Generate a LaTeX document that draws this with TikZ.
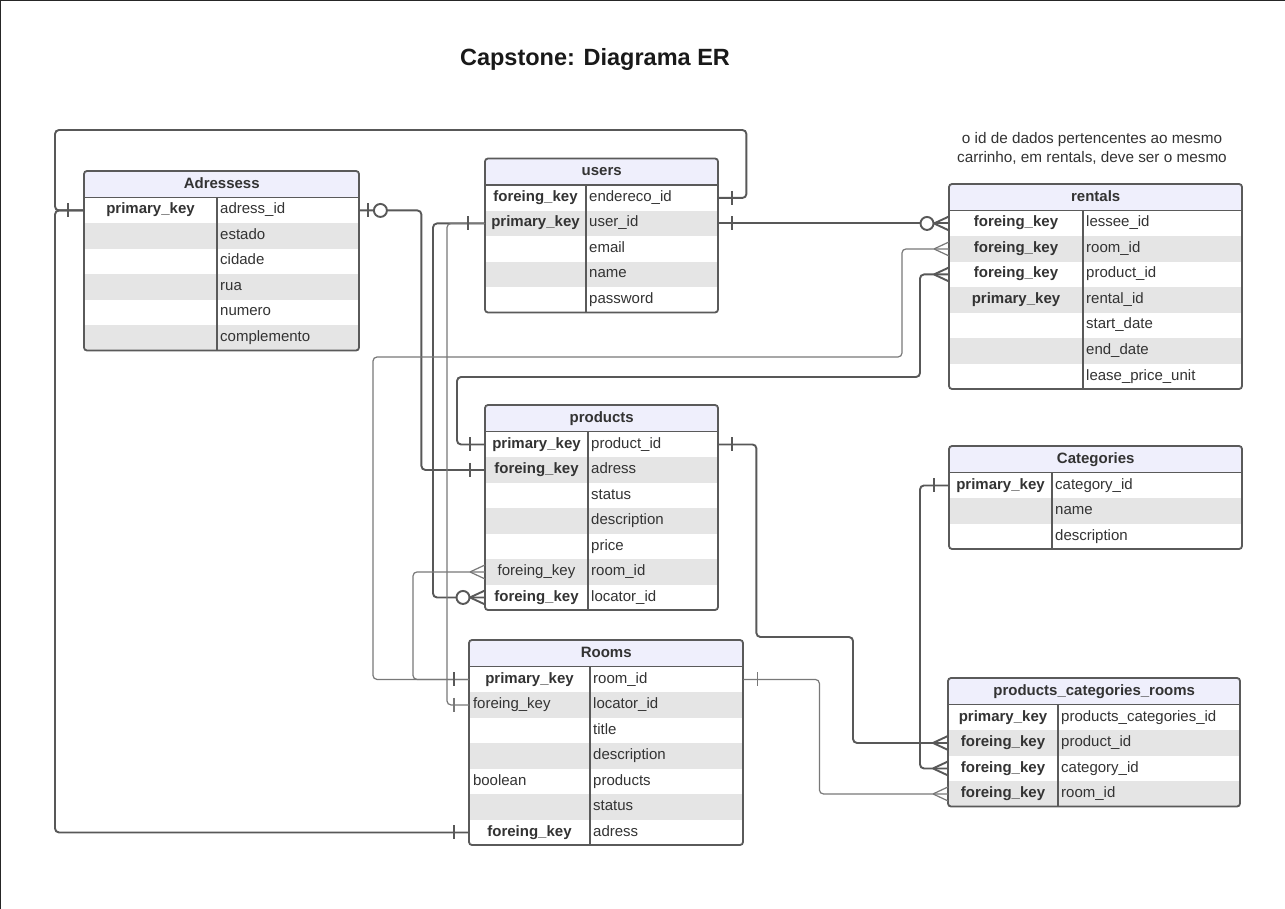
\documentclass[tikz,border=0pt]{standalone}
\usepackage{fontspec}
\setmainfont{Liberation Sans}
\definecolor{hdrfill}{RGB}{239,239,252}
\definecolor{rowgray}{RGB}{229,229,229}
\definecolor{bordc}{RGB}{90,90,90}
\definecolor{txtc}{RGB}{51,51,51}
\definecolor{linec}{RGB}{88,88,88}
\definecolor{thinlc}{RGB}{120,120,120}
\tikzset{
  hdr/.style={rectangle, fill=hdrfill, minimum height=26.5pt, inner sep=0pt, text=txtc, text height=11pt, text depth=3.5pt, font=\bfseries\fontsize{15}{18}\selectfont},
  rowbox/.style={rectangle, draw=none, minimum height=25.5pt, inner sep=0pt},
  keytxt/.style={inner sep=0pt, align=center, text=txtc, text height=11pt, text depth=3.5pt, font=\fontsize{15}{18}\selectfont},
  fieldtxt/.style={inner sep=0pt, anchor=west, text=txtc, text height=11pt, text depth=3.5pt, font=\fontsize{15}{18}\selectfont},
  tblline/.style={draw=bordc, line width=1.8pt},
  thickc/.style={draw=linec, line width=1.9pt, rounded corners=4pt},
  thinc/.style={draw=thinlc, line width=1.2pt, rounded corners=4pt},
}
\newcommand\lk[1]{\makebox[\hsize][l]{#1}}
\newcommand\ertable[8]{%
  \node[hdr, minimum width=#4pt, anchor=north west] (#1-h) at (#2,#3) {#6};
  \pgfmathsetmacro\kwid{#5-8}%
  \foreach \keyv/\fieldv [count=\i] in {#8} {
    \ifodd\i\relax\def\rf{white}\else\def\rf{rowgray}\fi
    \node[rowbox, fill=\rf, minimum width=#4pt, anchor=north west] (#1-\i) at (#2, #3+26.5+25.5*\i-25.5) {};
    \node[keytxt, text width=\kwid pt] (#1-k\i) at (#2+#5/2, #3+26.5+25.5*\i-12.75) {\keyv};
    \node[fieldtxt] (#1-f\i) at (#2+#5+3, #3+26.5+25.5*\i-12.75) {\fieldv};
  }
  \draw[tblline] (#2,#3+26.5) -- ++(#4,0);
  \draw[tblline] (#2+#5,#3+26.5) -- (#2+#5,#3+26.5+25.5*#7);
  \draw[tblline, rounded corners=3pt] (#2,#3) rectangle (#2+#4, #3+26.5+25.5*#7);
}
\newcommand\tickL[2][thickc]{\draw[#1] ([xshift=-15pt]#2) ++(0,-7) -- ++(0,14);}
\newcommand\tickR[2][thickc]{\draw[#1] ([xshift=14pt]#2) ++(0,-7) -- ++(0,14);}
\newcommand\crowL[2][thickc]{\draw[#1] ([xshift=-15pt]#2) -- ([yshift=7pt]#2) ([xshift=-15pt]#2) -- ([yshift=-7pt]#2);}
\newcommand\circL[2][thickc]{\draw[#1, fill=white] ([xshift=-22pt]#2) circle[radius=6.5pt];}
\begin{document}
\begin{tikzpicture}[x=1pt, y=-1pt]
\useasboundingbox (0,0) rectangle (1285,909);
\fill[white] (0,0) rectangle (1285,909);
\draw[line width=2.5pt, black!85] (0,909) -- (0,0) -- (1285,0);

\node[font=\bfseries\fontsize{23.5}{28}\selectfont, text=black!90] (title) at (595,59) {Capstone: Diagrama ER};
\node[align=center, text=txtc, font=\fontsize{15.3}{19}\selectfont] (note) at (1092,148.5) {o id de dados pertencentes ao mesmo\\carrinho, em rentals, deve ser o mesmo};

\ertable{adr}{84}{171}{275}{133}{Adressess}{6}{%
  {\textbf{primary\_key}}/adress\_id, {}/estado, {}/cidade, {}/rua, {}/numero, {}/complemento}
\ertable{users}{485}{158.5}{233}{101}{users}{5}{%
  {\textbf{foreing\_key}}/endereco\_id, {\textbf{primary\_key}}/user\_id, {}/email, {}/name, {}/password}
\ertable{rentals}{949}{184}{293}{134}{rentals}{7}{%
  {\textbf{foreing\_key}}/lessee\_id, {\textbf{foreing\_key}}/room\_id, {\textbf{foreing\_key}}/product\_id, {\textbf{primary\_key}}/rental\_id, {}/start\_date, {}/end\_date, {}/lease\_price\_unit}
\ertable{cat}{949}{446}{293}{103}{Categories}{3}{%
  {\textbf{primary\_key}}/category\_id, {}/name, {}/description}
\ertable{prod}{485}{405}{233}{103}{products}{7}{%
  {\textbf{primary\_key}}/product\_id, {\textbf{foreing\_key}}/adress, {}/status, {}/description, {}/price, {foreing\_key}/room\_id, {\textbf{foreing\_key}}/locator\_id}
\ertable{rooms}{469}{640}{274}{121}{Rooms}{7}{%
  {\textbf{primary\_key}}/room\_id, {\lk{foreing\_key}}/locator\_id, {}/title, {}/description, {\lk{boolean}}/products, {}/status, {\textbf{foreing\_key}}/adress}
\ertable{pcr}{948}{678}{292}{110}{products\_categories\_rooms}{4}{%
  {\textbf{primary\_key}}/products\_categories\_id, {\textbf{foreing\_key}}/product\_id, {\textbf{foreing\_key}}/category\_id, {\textbf{foreing\_key}}/room\_id}

% connectors
\draw[thickc] (users-1.east) -- ++(28,0) |- (55,130) |- (adr-1.west);
\draw[thickc] (adr-1.west) -- ++(-29,0) |- (rooms-7.west);
\draw[thickc] (adr-1.east) -- ++(62,0) |- (prod-2.west);
\draw[thickc] (users-2.west) -- ++(-52,0) |- (prod-7.west);
\draw[thinc] (users-2.west) -- ++(-38,0) |- (rooms-2.west);
\draw[thickc] (users-2.east) -- (rentals-1.west);
\draw[thinc] (rentals-2.west) -- ++(-47,0) |- (373,357) |- (rooms-1.west);
\draw[thickc] (rentals-3.west) -- ++(-29,0) |- (457,377) |- (prod-1.west);
\draw[thinc] (prod-6.west) -- ++(-72,0) |- (rooms-1.west);
\draw[thickc] (prod-1.east) -- ++(38,0) |- (853,637) |- (pcr-2.west);
\draw[thickc] (cat-1.west) -- ++(-29,0) |- (pcr-3.west);
\draw[thinc] (rooms-1.east) -- ++(76,0) |- (pcr-4.west);

% end markers
\tickR{users-1.east}
\draw[thickc] ([xshift=-16pt]adr-1.west) ++(0,-7) -- ++(0,14);
\tickL{rooms-7.west}
\draw[thickc] ([xshift=9pt]adr-1.east) ++(0,-7) -- ++(0,14);
\draw[thickc, fill=white] ([xshift=21pt]adr-1.east) circle[radius=6.5pt];
\tickL{prod-2.west}
\draw[thickc] ([xshift=-17pt]users-2.west) ++(0,-7) -- ++(0,14);
\crowL{prod-7.west}
\circL{prod-7.west}
\tickL[thinc]{rooms-2.west}
\tickR{users-2.east}
\crowL{rentals-1.west}
\circL{rentals-1.west}
\crowL[thinc]{rentals-2.west}
\tickL{rooms-1.west}
\crowL{rentals-3.west}
\tickL{prod-1.west}
\crowL[thinc]{prod-6.west}
\tickR{prod-1.east}
\crowL{pcr-2.west}
\tickL{cat-1.west}
\crowL{pcr-3.west}
\tickR[thinc]{rooms-1.east}
\crowL[thinc]{pcr-4.west}
\end{tikzpicture}
\end{document}
